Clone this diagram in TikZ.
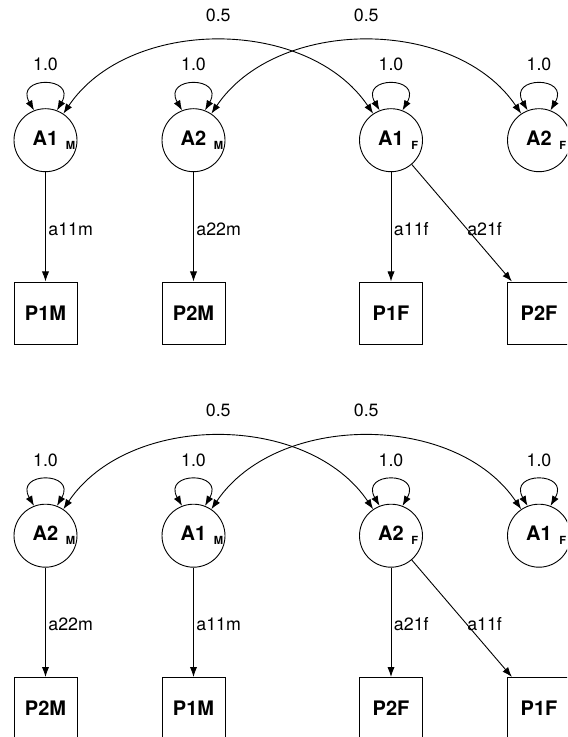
\documentclass[tikz,border=0pt]{standalone}
\usepackage{fontspec}
\setmainfont{TeX Gyre Heros}
\usetikzlibrary{positioning,arrows.meta}
\tikzset{>={Latex[length=5pt,width=3.6pt]}}
\tikzset{
  latent/.style={circle, draw, minimum size=31.5pt, inner sep=0pt, font=\bfseries\fontsize{10}{12}\selectfont},
  manifest/.style={rectangle, draw, minimum width=31.5pt, minimum height=31.25pt, inner sep=0pt, font=\bfseries\fontsize{10}{12}\selectfont},
  lbl/.style={font=\fontsize{8.9}{10}\selectfont},
  varloop/.style={<->, out=120, in=60, distance=20pt},
  covar/.style={<->, out=124, in=56, looseness=0.97},
}
\newcommand{\sx}[2]{#1\rlap{\hspace{3.8pt}\raisebox{-2pt}{\fontsize{5.6}{6}\selectfont #2}}}

\begin{document}
\begin{tikzpicture}[line width=0.45pt, node distance=74pt]
            \useasboundingbox (0,0) rectangle (283.5pt,-368.5pt);
            \clip (0,0) rectangle (283.5pt,-368.5pt);
            % first ordering
            \node[latent] (a1m) at (22.75pt,-70.1pt) {\sx{A1}{M}};
            \node[latent] (a2m) [right of=a1m] {\sx{A2}{M}};
            \node[latent] (a1f) [right of=a2m, node distance=98.75pt] {\sx{A1}{F}};
            \node[latent] (a2f) [right of=a1f] {\sx{A2}{F}};
            \node[manifest] (p1m) [below of=a1m, node distance=86.5pt] {P1M};
            \node[manifest] (p2m) [below of=a2m, node distance=86.5pt] {P2M};
            \node[manifest] (p1f) [below of=a1f, node distance=86.5pt] {P1F};
            \node[manifest] (p2f) [below of=a2f, node distance=86.5pt] {P2F};
            \path (a1m.111) edge[varloop] node[lbl,above=3.2pt] {1.0} (a1m.69)
                  (a2m.111) edge[varloop] node[lbl,above=3.2pt] {1.0} (a2m.69)
                  (a1f.111) edge[varloop] node[lbl,above=3.2pt] {1.0} (a1f.69)
                  (a2f.111) edge[varloop] node[lbl,above=3.2pt] {1.0} (a2f.69)
                  (a1f.124) edge[covar] node[lbl,above=6.2pt] {0.5} (a1m.56)
                  (a2f.124) edge[covar] node[lbl,above=6.2pt] {0.5} (a2m.56);
            \path[->] (a1m) edge node[lbl,pos=0.52,right,inner sep=1.25pt] {a11m} (p1m)
                      (a2m) edge node[lbl,pos=0.52,right,inner sep=1.25pt] {a22m} (p2m)
                      (a1f) edge node[lbl,pos=0.52,right,inner sep=1.25pt] {a11f} (p1f)
                      (a1f) edge node[lbl,pos=0.55,anchor=west,inner sep=0pt] {a21f} (p2f);
            % second ordering
            \node[latent] (a2mb) [below of=p1m, node distance=111.25pt] {\sx{A2}{M}};
            \node[latent] (a1mb) [right of=a2mb] {\sx{A1}{M}};
            \node[latent] (a2fb) [right of=a1mb, node distance=98.75pt] {\sx{A2}{F}};
            \node[latent] (a1fb) [right of=a2fb] {\sx{A1}{F}};
            \node[manifest] (p2mb) [below of=a2mb, node distance=86.5pt] {P2M};
            \node[manifest] (p1mb) [below of=a1mb, node distance=86.5pt] {P1M};
            \node[manifest] (p2fb) [below of=a2fb, node distance=86.5pt] {P2F};
            \node[manifest] (p1fb) [below of=a1fb, node distance=86.5pt] {P1F};
            \path (a2mb.111) edge[varloop] node[lbl,above=3.2pt] {1.0} (a2mb.69)
                  (a1mb.111) edge[varloop] node[lbl,above=3.2pt] {1.0} (a1mb.69)
                  (a2fb.111) edge[varloop] node[lbl,above=3.2pt] {1.0} (a2fb.69)
                  (a1fb.111) edge[varloop] node[lbl,above=3.2pt] {1.0} (a1fb.69)
                  (a2fb.124) edge[covar] node[lbl,above=6.2pt] {0.5} (a2mb.56)
                  (a1fb.124) edge[covar] node[lbl,above=6.2pt] {0.5} (a1mb.56);
            \path[->] (a2mb) edge node[lbl,pos=0.52,right,inner sep=1.25pt] {a22m} (p2mb)
                      (a1mb) edge node[lbl,pos=0.52,right,inner sep=1.25pt] {a11m} (p1mb)
                      (a2fb) edge node[lbl,pos=0.52,right,inner sep=1.25pt] {a21f} (p2fb)
                      (a2fb) edge node[lbl,pos=0.55,anchor=west,inner sep=0pt] {a11f} (p1fb);
\end{tikzpicture}
\end{document}
